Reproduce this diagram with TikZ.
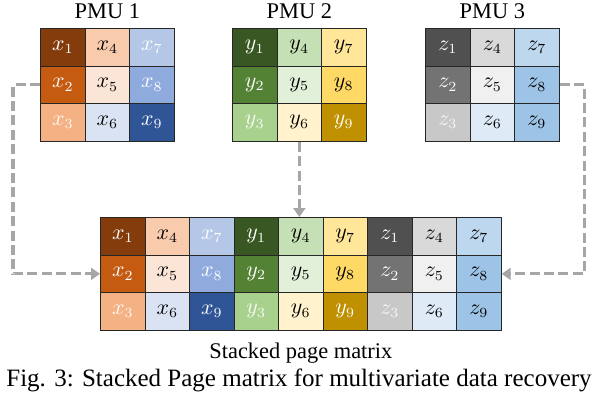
\documentclass[tikz,border=0pt]{standalone}
\usepackage{fontspec}
\setmainfont{Liberation Serif}
\usepackage{xcolor}
\usepackage{tikz}
\usetikzlibrary{arrows.meta, positioning, calc}

\definecolor{cx1}{HTML}{843C0C}
\definecolor{cx2}{HTML}{C55A11}
\definecolor{cx3}{HTML}{F4B183}
\definecolor{cx4}{HTML}{F8CBAD}
\definecolor{cx5}{HTML}{FBE5D6}
\definecolor{cx6}{HTML}{DAE3F3}
\definecolor{cx7}{HTML}{B4C7E7}
\definecolor{cx8}{HTML}{8FAADC}
\definecolor{cx9}{HTML}{2F5597}
\definecolor{cy1}{HTML}{385723}
\definecolor{cy2}{HTML}{548235}
\definecolor{cy3}{HTML}{A9D18E}
\definecolor{cy4}{HTML}{C5E0B4}
\definecolor{cy5}{HTML}{E2F0D9}
\definecolor{cy6}{HTML}{FFF2CC}
\definecolor{cy7}{HTML}{FFE699}
\definecolor{cy8}{HTML}{FFD966}
\definecolor{cy9}{HTML}{BF9000}
\definecolor{cz1}{HTML}{4F504F}
\definecolor{cz2}{HTML}{737373}
\definecolor{cz3}{HTML}{C8C8C8}
\definecolor{cz4}{HTML}{D9D9D9}
\definecolor{cz5}{HTML}{F0F0F0}
\definecolor{cz6}{HTML}{DEEBF7}
\definecolor{cz7}{HTML}{BDD7EE}
\definecolor{cz8}{HTML}{9DC3E6}
\definecolor{cz9}{HTML}{9DC3E6}
\definecolor{grisflecha}{HTML}{A6A6A6}

\begin{document}
\begin{tikzpicture}[
    x=0.5pt, y=-0.5pt,
    celda/.style={draw=black!85, line width=0.6pt, anchor=north west,
                  minimum width=22.25pt, minimum height=18.75pt,
                  inner sep=0pt, font=\fontsize{10.5}{12}\selectfont},
    titulo/.style={font=\fontsize{11.2}{13}\selectfont, anchor=base},
    flecha/.style={draw=grisflecha, line width=1.6pt,
                   dash pattern=on 5pt off 2.2pt,
                   -{Triangle[length=4.5pt, width=6pt]}}
  ]
  \useasboundingbox (0,0) rectangle (596,398);

  % --- PMU 1 y su bloque en la matriz apilada ---
  \foreach \k/\tc in {1/white,2/white,3/white!92!cx3,4/black,5/black,
                      6/black,7/white,8/white,9/white} {
    \pgfmathtruncatemacro\col{(\k-1)/3}
    \pgfmathtruncatemacro\fila{mod(\k-1,3)}
    \node[celda, fill=cx\k, text=\tc] (pmu1-\k)
      at (40+44.5*\col, 28+37.5*\fila) {$x_{\k}$};
    \node[celda, fill=cx\k, text=\tc] (pila-x\k)
      at (100+44.5*\col, 217+37.5*\fila) {$x_{\k}$};
  }

  % --- PMU 2 ---
  \foreach \k/\tc in {1/white,2/white,3/white!92!cy3,4/black,5/black,
                      6/black,7/black,8/black,9/white} {
    \pgfmathtruncatemacro\col{(\k-1)/3}
    \pgfmathtruncatemacro\fila{mod(\k-1,3)}
    \node[celda, fill=cy\k, text=\tc] (pmu2-\k)
      at (232+44.5*\col, 28+37.5*\fila) {$y_{\k}$};
    \node[celda, fill=cy\k, text=\tc] (pila-y\k)
      at (233.5+44.5*\col, 217+37.5*\fila) {$y_{\k}$};
  }

  % --- PMU 3 ---
  \foreach \k/\tc in {1/white,2/white,3/white!85!cz3,4/black,5/black,
                      6/black,7/black,8/black,9/black} {
    \pgfmathtruncatemacro\col{(\k-1)/3}
    \pgfmathtruncatemacro\fila{mod(\k-1,3)}
    \node[celda, fill=cz\k, text=\tc] (pmu3-\k)
      at (425+44.5*\col, 28+37.5*\fila) {$z_{\k}$};
    \node[celda, fill=cz\k, text=\tc] (pila-z\k)
      at (367+44.5*\col, 217+37.5*\fila) {$z_{\k}$};
  }

  % --- Titulos ---
  \node[titulo] (t1) at (pmu1-4.north |- 0,18) {PMU 1};
  \node[titulo] (t2) at (pmu2-4.north |- 0,18) {PMU 2};
  \node[titulo] (t3) at (pmu3-4.north |- 0,18) {PMU 3};
  \node[titulo] (tpila) at (pila-y4.north |- 0,358) {Stacked page matrix};

  % --- Flechas hacia la matriz apilada ---
  \draw[flecha] (pmu1-2.west) -- ++(-27,0) |- (pila-x2.west);
  \draw[flecha] (pmu2-6.south) -- (pmu2-6.south |- pila-y4.north);
  \draw[flecha] (pmu3-8.east) -- ++(25,0) |- (pila-z8.east);

  \node[anchor=base, font=\fontsize{12.5}{14}\selectfont] (pie)
    at (299,386) {Fig. 3: Stacked Page matrix for multivariate data recovery};
\end{tikzpicture}
\end{document}
